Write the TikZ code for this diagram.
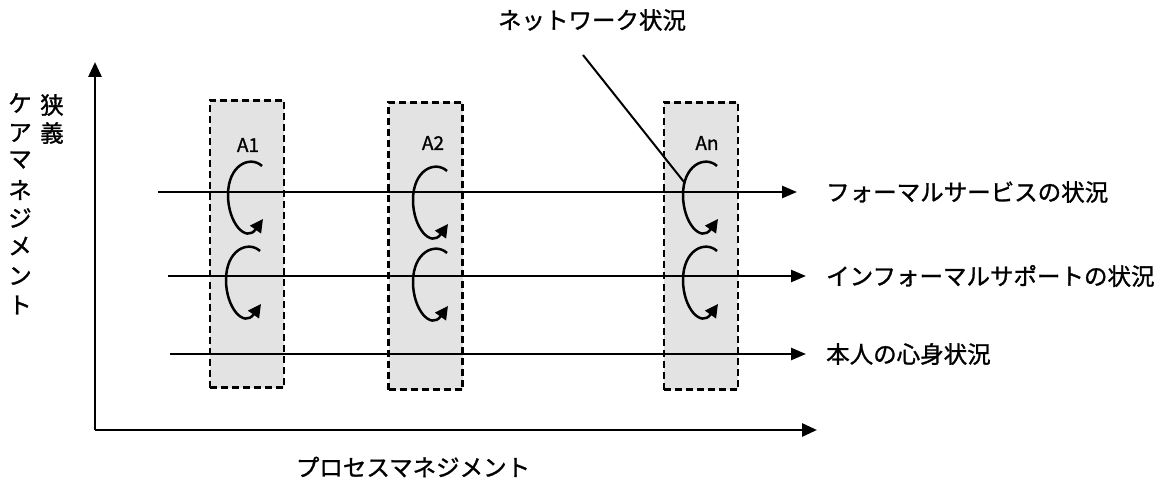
\documentclass[tikz,border=0pt]{standalone}
\usepackage{fontspec}
\newfontfamily\jp[FakeBold=1.2]{Noto Sans CJK JP}
\usetikzlibrary{arrows.meta}
\tikzset{
  every node/.style={font=\jp\fontsize{23.5}{26}\selectfont, inner sep=0pt},
  axis/.style={line width=2.8pt, -{Triangle[length=15pt,width=13pt]}},
  flow/.style={line width=2.5pt, -{Triangle[length=15pt,width=12pt]}},
  stagebox/.style={draw, dashed, dash pattern=on 7pt off 4pt, line width=2.4pt, fill=black!11, minimum width=74pt, minimum height=287pt},
  cycarrow/.style={line width=2.5pt, -{Triangle[length=13pt,width=13pt]}},
  stagelabel/.style={font=\jp\fontsize{19}{22}\selectfont},
  vchar/.style={font=\jp\fontsize{23.5}{26}\selectfont},
  cyc/.pic={\draw[cycarrow] (34,-29) .. controls (22,-40) and (0,-30) .. (0,0) .. controls (0,28) and (18,48) .. (35,24);}
}
\begin{document}
\begin{tikzpicture}[x=1pt,y=-1pt]
\useasboundingbox (0,0) rectangle (1162,481);
% boxes
\node[stagebox] (b1) at (247,244) {};
\node[stagebox] (b2) at (425.5,246) {};
\node[stagebox] (bn) at (701,246) {};
\node[stagelabel] (l1) at (248,145) {A1};
\node[stagelabel] (l2) at (433,143) {A2};
\node[stagelabel] (ln) at (707,143) {An};
% axes
\coordinate (origin) at (95,430);
\coordinate (ytop) at (95,62);
\coordinate (xend) at (817,430);
\draw[axis] (origin) -- (ytop);
\draw[axis] (95,430) -- (xend);
% flows
\node[anchor=west] (t1) at (826,192) {フォーマルサービスの状況};
\node[anchor=west] (t2) at (826,276) {インフォーマルサポートの状況};
\node[anchor=west] (t3) at (826,354) {本人の心身状況};
\coordinate (s1) at (158,192);
\coordinate (s2) at (168,276);
\coordinate (s3) at (170,354);
\coordinate (e1) at (797,192);
\coordinate (e2) at (806,276);
\coordinate (e3) at (806,354);
\draw[flow] (s1) -- (e1);
\draw[flow] (s2) -- (e2);
\draw[flow] (s3) -- (e3);
% cycles
\pic at (228,195) {cyc};
\pic at (226,280) {cyc};
\pic at (413,200) {cyc};
\pic at (413,282) {cyc};
\pic at (683,195) {cyc};
\pic at (683,280) {cyc};
% network
\node (net) at (592,20) {ネットワーク状況};
\coordinate (netstart) at (583,55);
\coordinate (netend) at (684,182);
\draw[line width=2pt] (netstart) -- (netend);
% axis labels
\node (xl) at (413,467) {プロセスマネジメント};
\node[vchar] at (52,105) {狭};
\node[vchar] at (52,133) {義};
\node[vchar] at (20,103) {ケ};
\node[vchar] at (20,133) {ア};
\node[vchar] at (20,160) {マ};
\node[vchar] at (20,190) {ネ};
\node[vchar] at (20,218) {ジ};
\node[vchar] at (20,246) {メ};
\node[vchar] at (20,276) {ン};
\node[vchar] at (20,305) {ト};
\end{tikzpicture}
\end{document}
